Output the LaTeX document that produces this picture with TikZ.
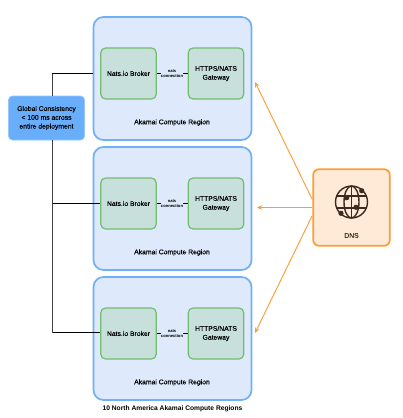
\documentclass[tikz,border=0pt]{standalone}
\usepackage{fontspec}
\setmainfont{Liberation Sans}
\newfontfamily\medf[FakeBold=0.25]{Liberation Sans}
\usetikzlibrary{arrows.meta}
\definecolor{regfill}{HTML}{DEEAFB}
\definecolor{regline}{HTML}{6FB0F8}
\definecolor{boxfill}{HTML}{C8E0DC}
\definecolor{boxline}{HTML}{72BC6E}
\definecolor{gfill}{HTML}{69AEFB}
\definecolor{dfill}{HTML}{FFEAD8}
\definecolor{dline}{HTML}{FA9C38}
\definecolor{ink}{HTML}{3A2A20}
\tikzset{
 x=0.75pt,y=-0.75pt,
 txt/.style={font=\fontsize{5.1}{6.6}\selectfont\medf,align=center,text=black,inner sep=0pt},
 region/.style={draw=regline,fill=regfill,line width=1.3pt,rounded corners=7.5pt,minimum width=118.5pt,minimum height=92.25pt,inner sep=0pt},
 svc/.style={draw=boxline,fill=boxfill,line width=0.9pt,rounded corners=3.5pt,minimum width=41.5pt,minimum height=38.25pt,inner sep=0pt,align=center,font=\fontsize{5.1}{6.6}\selectfont\medf},
 link/.style={draw=black,line width=0.6pt},
 mini/.style={font=\fontsize{3.1}{3.7}\selectfont\bfseries,align=center,inner sep=0pt},
 tree/.style={draw=black!75,line width=0.7pt},
 branch/.style={draw=black,line width=0.6pt},
 oarrow/.style={draw=dline,line width=0.7pt,-{Stealth[length=4pt,width=3.5pt]}},
 globe/.style={draw=ink,line width=1.05pt},
 dotg/.style={fill=ink,circle,inner sep=0pt,minimum size=3.9pt},
}
\begin{document}
\begin{tikzpicture}
\useasboundingbox (0,0) rectangle (403,418);
\foreach \n/\y in {a/78.5,b/208.5,c/338.5}{
 \node[region] (reg\n) at (172.5,\y) {};
 \node[svc] (brk\n) at (128.5,\y-5) {Nats.io Broker};
 \node[svc] (gw\n) at (216,\y-5) {HTTPS/NATS\\Gateway};
 \node[mini] (nc\n) at (172,\y-5) {nats\\connection};
 \draw[link] (brk\n.east) -- (nc\n.west);
 \draw[link] (nc\n.east) -- (gw\n.west);
 \node[txt] (lab\n) at (172,\y+44) {Akamai Compute Region};
}
\node[draw=gfill!70!white,fill=gfill,line width=0.6pt,rounded corners=3pt,minimum width=57pt,minimum height=33pt,inner sep=0pt,txt] (glob) at (46.5,118) {Global Consistency\\< 100 ms across\\entire deployment};
\coordinate (ta) at (52,73.5);
\coordinate (tb) at (52,203.5);
\coordinate (tc) at (52,332.5);
\coordinate (tg) at (52,96);
\coordinate (tgb) at (52,140);
\draw[branch] (tb) -- (regb.west |- tb);
\draw[branch] (regb.west |- tb) -- (brkb.west);
\draw[branch] (ta) -- (rega.west |- ta);
\draw[branch] (tc) -- (brkc.west |- tc);
\draw[tree] (tg) -- (ta);
\draw[tree] (tgb) -- (tc);
\node[draw=dline,fill=dfill,line width=1.3pt,rounded corners=4.5pt,minimum width=57.5pt,minimum height=57.5pt,inner sep=0pt] (dns) at (351.5,207.5) {};
\node[txt,text=ink] (dnsl) at (351.5,235.5) {DNS};
\coordinate (ea) at (255,82);
\coordinate (eb) at (257,207.5);
\coordinate (ec) at (255,333);
\draw[oarrow] (dns.west) ++(0,-8) -- (ea);
\draw[oarrow] (dns.west) -- (eb);
\draw[oarrow] (dns.west) ++(0,8) -- (ec);
\begin{scope}[shift={(351.5,202)}]
 \draw[globe] (0,0) circle[radius=16];
 \draw[globe] (0,0) ellipse[x radius=7.5,y radius=16];
 \draw[globe] (0,-16) -- (0,16);
 \draw[globe] (-14.5,-6) -- (14.5,-6);
 \draw[globe] (-14.5,6) -- (14.5,6);
 \node[dotg] (d1) at (-4.8,-4.3) {};
 \node[dotg] (d2) at (4.5,5.3) {};
 \node[dotg] (d3) at (10.2,-11.3) {};
 \node[dotg] (d4) at (-10.5,11.3) {};
\end{scope}
\node[txt,font=\fontsize{5}{6.6}\selectfont\bfseries] (foot) at (172.5,408.5) {10 North America Akamai Compute Regions};
\end{tikzpicture}
\end{document}
